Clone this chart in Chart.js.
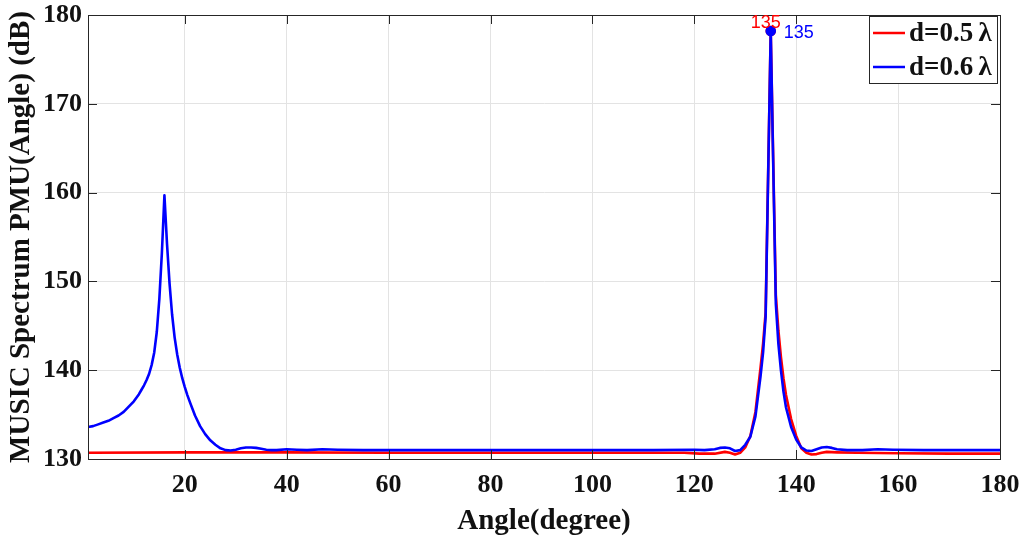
<!DOCTYPE html>
<html lang="en">
<head>
    <meta charset="UTF-8">
    <title>MUSIC Spectrum</title>
    <script src="https://cdn.jsdelivr.net/npm/chart.js"></script>
    <style>
        html, body { margin: 0; padding: 0; background: #fff; }
        #wrap { width: 1025px; height: 539px; }
    </style>
</head>
<body>
    <div id="wrap"><canvas id="spectrum" width="1025" height="539"></canvas></div>

    <script>
        // spectrum samples, d = 0.5 lambda
        const angleRed = [1, 20, 40, 60, 80, 100, 118, 121, 124, 126, 127, 128, 129,
            130, 131, 132, 133, 133.5, 134, 135, 136, 136.5, 137, 137.5, 138, 139, 140, 141, 142, 143, 144, 145, 146, 148, 152, 160, 170, 180];
        const pmuRed = [130.7, 130.75, 130.75, 130.7, 130.7, 130.7, 130.7, 130.6, 130.6, 130.8, 130.7, 130.5, 130.7,
            131.3, 132.6, 135.3, 140.3, 143.0, 146.5, 178.2, 148.5, 144.5, 141.5, 139.1, 137.2, 134.5, 132.6, 131.2, 130.7, 130.5, 130.55, 130.7, 130.8, 130.75, 130.7, 130.65, 130.6, 130.6];

        // spectrum samples, d = 0.6 lambda
        const angleBlue = [1, 2, 3, 4, 5, 6, 7, 8, 9, 10, 10.5, 11, 11.5, 12, 12.5, 13, 13.5, 14, 14.5, 15, 15.5, 16,
            16.5, 17, 17.5, 18, 18.5, 19, 19.5, 20, 20.5,
            21, 22, 23, 24, 25, 26, 27, 28, 29, 30, 31, 32, 33, 34, 35, 36, 37, 38, 40, 42, 44, 47, 50, 55,
            65, 75, 85, 95, 105, 112, 120, 122, 124, 125, 126, 127, 128, 129,
            130, 131, 132, 133, 133.5, 134, 135, 136, 136.5, 137, 137.5, 138, 139, 140, 141, 142, 143, 144, 145, 146, 147, 148,
            150, 153, 156, 159, 165, 172, 180];
        const pmuBlue = [133.6, 133.7, 133.9, 134.1, 134.3, 134.6, 134.9, 135.3, 135.9, 136.5, 136.9, 137.3, 137.8, 138.3, 138.9, 139.6, 140.6, 142.0, 144.3, 148.0, 153.2, 159.7,
            154.3, 149.8, 146.3, 143.7, 141.8, 140.3, 139.1, 138.1, 137.2,
            136.4, 134.9, 133.7, 132.8, 132.1, 131.6, 131.2, 131.0, 130.95, 131.05, 131.2, 131.3, 131.3, 131.25, 131.15, 131.05, 131.0, 131.0, 131.1, 131.05, 131.0, 131.1, 131.05, 131.0,
            131.0, 131.0, 131.0, 131.0, 131.0, 131.0, 131.05, 131.0, 131.1, 131.25, 131.3, 131.2, 130.9, 131.0,
            131.6, 132.5, 134.8, 139.3, 142.0, 146.0, 178.2, 147.5, 143.0, 140.0, 137.6, 135.8, 133.6, 132.2, 131.3, 130.95, 130.9, 131.1, 131.3, 131.35, 131.25, 131.1,
            131.0, 131.0, 131.1, 131.05, 131.0, 131.0, 131.0];

        const xTicks = [20, 40, 60, 80, 100, 120, 140, 160, 180];
        const yTicks = [130, 140, 150, 160, 170, 180];
        const peakAngle = 135;
        const seriesNames = ['d=0.5\u2009\u03bb', 'd=0.6\u2009\u03bb'];
        const seriesColors = ['#ff0000', '#0000ff'];

        const pairs = (xs, ys) => xs.map((x, i) => ({ x: x, y: ys[i] }));
        const serif = "'Liberation Serif', 'Times New Roman', serif";

        // box around the axes plus inward tick marks
        const axesBox = {
            id: 'axesBox',
            afterDatasetsDraw(chart) {
                const { ctx, chartArea: a, scales: { x, y } } = chart;
                ctx.save();
                ctx.strokeStyle = '#262626';
                ctx.lineWidth = 1;
                ctx.beginPath();
                xTicks.forEach(v => {
                    const px = Math.round(x.getPixelForValue(v)) + 0.5;
                    ctx.moveTo(px, a.bottom); ctx.lineTo(px, a.bottom - 9);
                    ctx.moveTo(px, a.top); ctx.lineTo(px, a.top + 9);
                });
                yTicks.forEach(v => {
                    const py = Math.round(y.getPixelForValue(v)) + 0.5;
                    ctx.moveTo(a.left, py); ctx.lineTo(a.left + 9, py);
                    ctx.moveTo(a.right, py); ctx.lineTo(a.right - 9, py);
                });
                ctx.stroke();
                ctx.strokeRect(Math.round(a.left) + 0.5, Math.round(a.top) + 0.5,
                    Math.round(a.right - a.left), Math.round(a.bottom - a.top));
                ctx.restore();
            }
        };

        // data tips at the main peak
        const peakTips = {
            id: 'peakTips',
            afterDatasetsDraw(chart) {
                const ctx = chart.ctx;
                ctx.save();
                ctx.font = "18px 'Liberation Sans', Arial, sans-serif";
                ctx.textBaseline = 'middle';
                chart.data.datasets.forEach((ds, di) => {
                    const meta = chart.getDatasetMeta(di);
                    const idx = ds.data.findIndex(p => p.x === peakAngle);
                    const pt = meta.data[idx];
                    ctx.fillStyle = ds.borderColor;
                    if (di === 0) {
                        ctx.textAlign = 'right';
                        ctx.fillText(String(peakAngle), pt.x + 10, pt.y - 8);
                    } else {
                        ctx.textAlign = 'left';
                        ctx.fillText(String(peakAngle), pt.x + 13, pt.y + 2);
                    }
                });
                ctx.restore();
            }
        };

        // legend box in the upper right corner
        const cornerLegend = {
            id: 'cornerLegend',
            afterDraw(chart) {
                const { ctx, chartArea: a } = chart;
                const w = 128, h = 67;
                const bx = a.right - w - 3, by = a.top + 1;
                ctx.save();
                ctx.fillStyle = '#fff';
                ctx.fillRect(bx, by, w, h);
                ctx.strokeStyle = '#262626';
                ctx.lineWidth = 1;
                ctx.strokeRect(bx + 0.5, by + 0.5, w, h);
                ctx.font = 'bold 27px ' + serif;
                ctx.textBaseline = 'middle';
                ctx.textAlign = 'left';
                seriesNames.forEach((name, i) => {
                    const cy = by + 17 + i * 34;
                    ctx.strokeStyle = seriesColors[i];
                    ctx.lineWidth = 2.5;
                    ctx.beginPath();
                    ctx.moveTo(bx + 4, cy);
                    ctx.lineTo(bx + 36, cy);
                    ctx.stroke();
                    ctx.fillStyle = '#111';
                    ctx.fillText(name, bx + 40, cy + 1);
                });
                ctx.restore();
            }
        };

        const peakRadius = c => (c.raw && c.raw.x === peakAngle ? 4 : 0);

        new Chart(document.getElementById('spectrum'), {
            type: 'line',
            data: {
                datasets: [{
                    label: seriesNames[0],
                    data: pairs(angleRed, pmuRed),
                    borderColor: seriesColors[0],
                    backgroundColor: seriesColors[0],
                    borderWidth: 2.6,
                    pointRadius: peakRadius,
                    borderJoinStyle: 'round',
                    order: 2
                }, {
                    label: seriesNames[1],
                    data: pairs(angleBlue, pmuBlue),
                    borderColor: seriesColors[1],
                    backgroundColor: seriesColors[1],
                    borderWidth: 2.6,
                    pointRadius: peakRadius,
                    borderJoinStyle: 'round',
                    order: 1
                }]
            },
            options: {
                responsive: false,
                animation: false,
                layout: { padding: { top: 15, right: 25, left: 0, bottom: 0 } },
                plugins: { legend: { display: false }, tooltip: { enabled: false } },
                scales: {
                    x: {
                        type: 'linear',
                        min: 1,
                        max: 180,
                        afterBuildTicks: s => { s.ticks = xTicks.map(v => ({ value: v })); },
                        afterFit: s => { s.height = 80; s.paddingLeft = 0; s.paddingRight = 0; },
                        grid: { color: '#e3e3e3', drawTicks: false },
                        border: { color: '#262626' },
                        ticks: { color: '#111', padding: 11, font: { family: serif, size: 26, weight: 'bold' } },
                        title: {
                            display: true,
                            text: 'Angle(degree)',
                            color: '#111',
                            padding: { top: 0, bottom: 0 },
                            font: { family: serif, size: 29, weight: 'bold', lineHeight: 1.2 }
                        }
                    },
                    y: {
                        min: 130,
                        max: 180,
                        afterBuildTicks: s => { s.ticks = yTicks.map(v => ({ value: v })); },
                        afterFit: s => { s.width = 88; s.paddingTop = 0; s.paddingBottom = 0; },
                        grid: { color: '#e3e3e3', drawTicks: false },
                        border: { color: '#262626' },
                        ticks: { color: '#111', padding: 6, font: { family: serif, size: 26, weight: 'bold' } },
                        title: {
                            display: true,
                            text: 'MUSIC Spectrum PMU(Angle) (dB)',
                            color: '#111',
                            padding: { top: 4, bottom: 0 },
                            font: { family: serif, size: 29, weight: 'bold', lineHeight: 1.2 }
                        }
                    }
                }
            },
            plugins: [axesBox, peakTips, cornerLegend]
        });
    </script>
</body>
</html>
